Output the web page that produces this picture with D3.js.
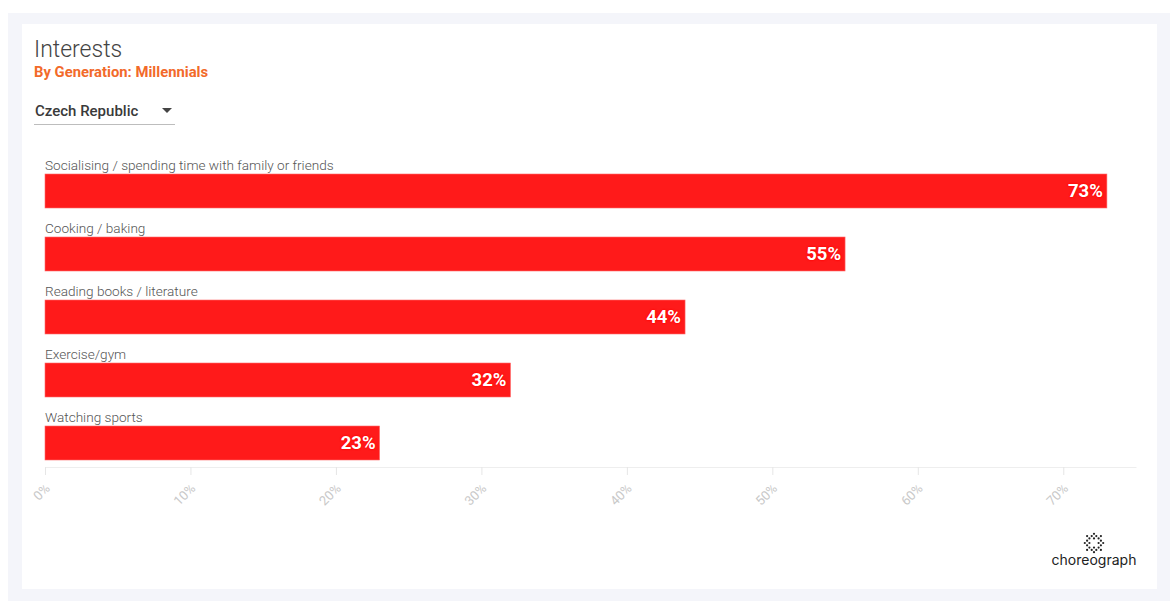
<!DOCTYPE html>
<html>
<head>
<meta charset="utf-8">
<script src="https://cdn.jsdelivr.net/npm/d3@7"></script>
<style>
  html, body { margin: 0; padding: 0; background: #ffffff; }
  svg { display: block; font-family: Roboto, "Noto Sans", sans-serif; }
</style>
</head>
<body>
<svg id="chart" width="1170" height="608"></svg>
<script>
const categories = [
  "Socialising / spending time with family or friends",
  "Cooking / baking",
  "Reading books / literature",
  "Exercise/gym",
  "Watching sports"
];
const values = [73, 55, 44, 32, 23];
const tickValues = [0, 10, 20, 30, 40, 50, 60, 70];
const title = "Interests";
const subtitle = "By Generation: Millennials";
const country = "Czech Republic";

const svg = d3.select("#chart");

// backgrounds
svg.append("rect").attr("x", 8).attr("y", 13).attr("width", 1162).attr("height", 588).attr("fill", "#f4f5fa");
svg.append("rect").attr("x", 22).attr("y", 24).attr("width", 1135).attr("height", 565).attr("fill", "#ffffff");

// title
svg.append("text").attr("x", 34).attr("y", 57).attr("font-size", 23).attr("font-weight", 300)
  .attr("fill", "#444").text(title);
svg.append("text").attr("x", 34).attr("y", 77).attr("font-size", 14.8).attr("font-weight", 700)
  .attr("fill", "#f26a2a").text(subtitle);

// dropdown
svg.append("text").attr("x", 35).attr("y", 116).attr("font-size", 15).attr("font-weight", 500)
  .attr("fill", "#3a3a3a").text(country);
svg.append("path").attr("d", "M162,108 L172,108 L167,113 Z").attr("fill", "#444");
svg.append("line").attr("x1", 34).attr("x2", 175).attr("y1", 124.5).attr("y2", 124.5)
  .attr("stroke", "#bdbdbd").attr("stroke-width", 1);

// scales
const x = d3.scaleLinear().domain([0, 75]).range([45, 1136]);
const y = d3.scaleBand().domain(categories).range([153, 468]).paddingInner(0);

const rows = svg.append("g").selectAll("g").data(categories).join("g")
  .attr("transform", d => `translate(0,${y(d)})`);

rows.append("text")
  .attr("x", x(0)).attr("y", 17)
  .attr("font-size", 13.6).attr("font-weight", 300).attr("fill", "#555")
  .text(d => d);

rows.append("rect")
  .attr("x", x(0)).attr("y", 21)
  .attr("width", (d, i) => x(values[i]) - x(0))
  .attr("height", 34)
  .attr("fill", "#ff1a1a")
  .attr("stroke", "#ff6b6b").attr("stroke-width", 0.6);

rows.append("text")
  .attr("x", (d, i) => x(values[i]) - 4)
  .attr("y", 44)
  .attr("text-anchor", "end")
  .attr("font-size", 18.5).attr("font-weight", 700)
  .attr("fill", "#ffffff")
  .style("text-shadow", "0 0 2px #ff0000, 0 0 2px #ff0000")
  .text((d, i) => values[i] + "%");

// axis
const axisG = svg.append("g").attr("transform", `translate(0,${y.range()[1] - 1})`)
  .call(d3.axisBottom(x).tickValues(tickValues).tickFormat(d => d + "%").tickSize(8).tickSizeOuter(0));
axisG.select(".domain").attr("stroke", "#eeeeee");
axisG.selectAll(".tick line").attr("stroke", "#e6e6e6");
axisG.selectAll(".tick text")
  .attr("fill", "#c8c8c8")
  .attr("font-size", 13)
  .attr("font-family", "Roboto, sans-serif")
  .attr("text-anchor", "end")
  .attr("dy", "0.35em")
  .attr("transform", "translate(2,19) rotate(-45)")
  .attr("x", 0).attr("y", 0);

// logo
const logo = svg.append("g").attr("transform", "translate(1094,543)");
const dots = [];
for (let r = -4; r <= 4; r++) {
  for (let c = -4; c <= 4; c++) {
    const dist = Math.sqrt(r * r + c * c);
    if ((r + c) % 2 === 0 && dist <= 4.3 && dist >= 1.5) dots.push([c * 2.3, r * 2.3]);
  }
}
logo.selectAll("circle").data(dots).join("circle")
  .attr("cx", d => d[0]).attr("cy", d => d[1]).attr("r", 1.1).attr("fill", "#222");
svg.append("text").attr("x", 1094).attr("y", 565).attr("text-anchor", "middle")
  .attr("font-size", 14).attr("fill", "#222").attr("font-family", "Inter, 'Noto Sans', sans-serif")
  .text("choreograph");
</script>
</body>
</html>
